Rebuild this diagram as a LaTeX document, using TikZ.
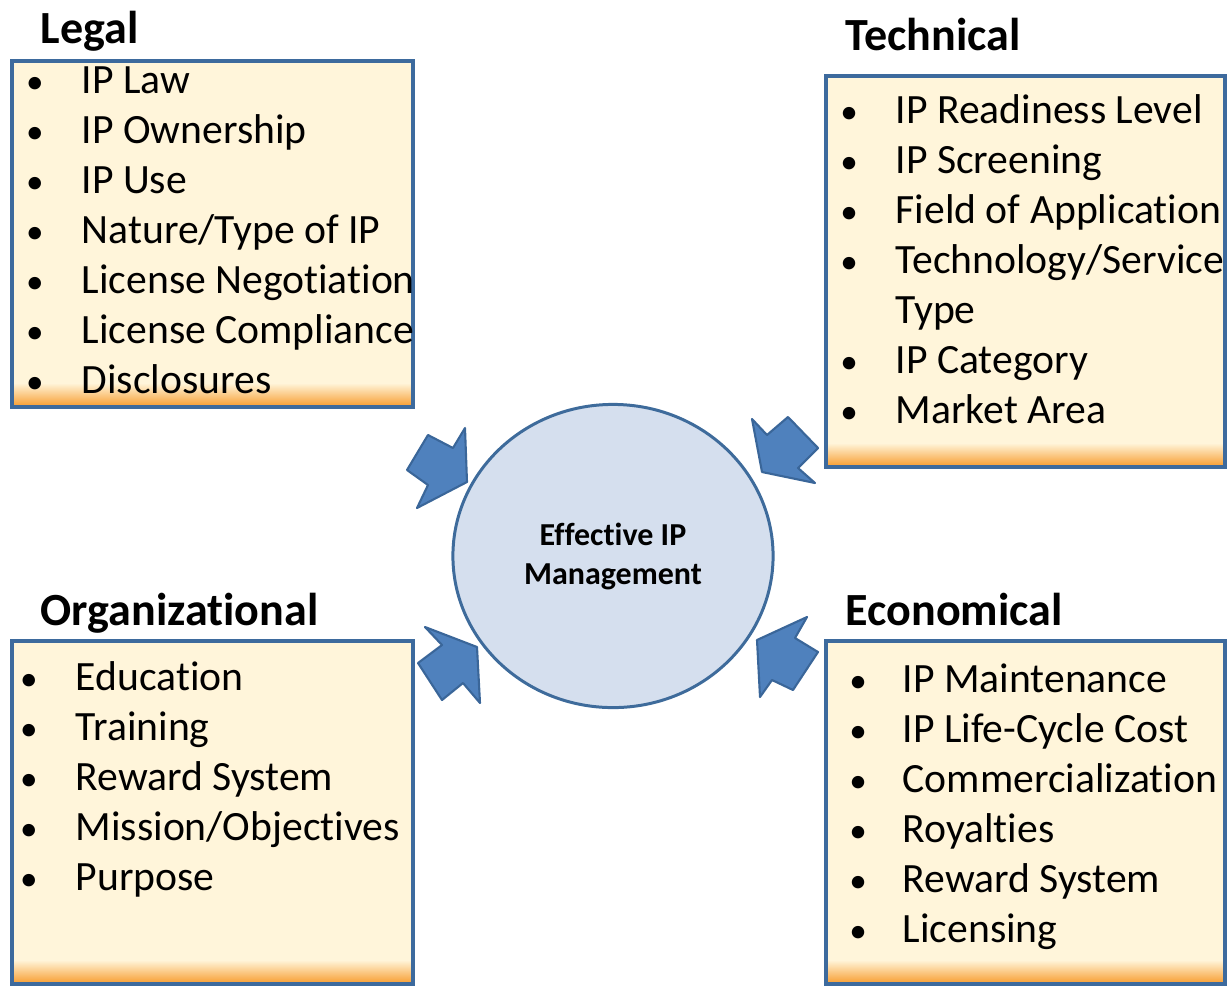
\documentclass[tikz,border=0pt]{standalone}
\usepackage{fontspec}
\setmainfont{Carlito}[Ligatures=NoCommon]
\usepackage{tikz}
\usetikzlibrary{positioning,shapes.geometric}

\definecolor{boxfill}{HTML}{FFF5DA}
\definecolor{boxedge}{HTML}{3D6A9D}
\definecolor{boxorange}{HTML}{F79B2C}
\definecolor{corefill}{HTML}{D5DFEE}
\definecolor{coreedge}{HTML}{3E6B9B}
\definecolor{arrowfill}{HTML}{4F81BD}
\definecolor{arrowedge}{HTML}{3A6699}

\tikzset{
  head/.style={anchor=base west, inner sep=0pt, font=\fontsize{13.1}{15.5}\selectfont\bfseries},
  item/.style={anchor=base west, inner sep=0pt, font=\fontsize{11.85}{14.2}\selectfont},
  dot/.style={anchor=base, inner sep=0pt, font=\fontsize{10}{12}\selectfont},
  blockarrow/.style={fill=arrowfill, draw=arrowedge, line width=0.6pt, line join=round},
}

% cream box with an orange band at the bottom
\newcommand\catbox[4]{%
  \fill[boxfill] (#1,#2) rectangle (#3,#4);
  \shade[top color=boxfill, bottom color=boxorange] (#1,#4+24) rectangle (#3,#4);
  \draw[boxedge, line width=1pt] (#1,#2) rectangle (#3,#4);
}

\begin{document}
\begin{tikzpicture}[x=0.01cm, y=0.01cm]
\useasboundingbox (0, 0) rectangle (1227, -987);

% Legal
\node[head] (legal) at (40, -43) {Legal};
\catbox{12}{-61}{413}{-407}
\foreach \t [count=\i] in {IP Law, IP Ownership, IP Use, Nature/Type of IP, License Negotiation, License Compliance, Disclosures} {
  \node[dot] (legalb\i) at (35, -43-50*\i) {\textbullet};
  \node[item] (legal\i) at (81, -43-50*\i) {\t};
}

% Technical
\node[head] (tech) at (845, -50) {Technical};
\catbox{826}{-76}{1225}{-467}
\foreach \y [count=\i] in {123, 173, 223, 273, 373, 423} {
  \node[dot] (techb\i) at (849, -\y) {\textbullet};
}
\node[item] (tech1) at (895, -123) {IP Readiness Level};
\node[item] (tech2) at (895, -173) {IP Screening};
\node[item] (tech3) at (895, -223) {Field of Application};
\node[item] (tech4) at (895, -273) {Technology/Service};
\node[item] (tech4b) at (895, -323) {Type};
\node[item] (tech5) at (895, -373) {IP Category};
\node[item] (tech6) at (895, -423) {Market Area};

% Organizational
\node[head] (org) at (40, -625) {Organizational};
\catbox{12}{-641}{413}{-984}
\foreach \t [count=\i] in {Education, Training, Reward System, Mission/Objectives, Purpose} {
  \node[dot] (orgb\i) at (29, -640-50*\i) {\textbullet};
  \node[item] (org\i) at (75, -640-50*\i) {\t};
}

% Economical
\node[head] (econ) at (845, -625) {Economical};
\catbox{826}{-641}{1225}{-984}
\foreach \t [count=\i] in {IP Maintenance, IP Life-Cycle Cost, Commercialization, Royalties, Reward System, Licensing} {
  \node[dot] (econb\i) at (858, -642-50*\i) {\textbullet};
  \node[item] (econ\i) at (902, -642-50*\i) {\t};
}

% centre
\node[ellipse, draw=coreedge, line width=0.85pt, fill=corefill, minimum width=3.2cm, minimum height=3.03cm,
  align=center, font=\fontsize{9.1}{11.1}\selectfont\bfseries] (core) at (613, -556) {Effective IP\\Management};

% block arrows
\draw[blockarrow] (428,-435) -- (453,-448) -- (465,-428) -- (467,-482) -- (417,-508) -- (428,-485) -- (407,-470) -- cycle;
\draw[blockarrow] (752,-419) -- (767,-435) -- (788,-417) -- (818,-448) -- (798,-468) -- (815,-483) -- (762,-472) -- cycle;
\draw[blockarrow] (425,-627) -- (477,-647) -- (480,-703) -- (463,-683) -- (442,-700) -- (418,-663) -- (442,-645) -- cycle;
\draw[blockarrow] (807,-617) -- (757,-640) -- (760,-697) -- (772,-680) -- (793,-690) -- (818,-652) -- (795,-638) -- cycle;
\end{tikzpicture}
\end{document}
